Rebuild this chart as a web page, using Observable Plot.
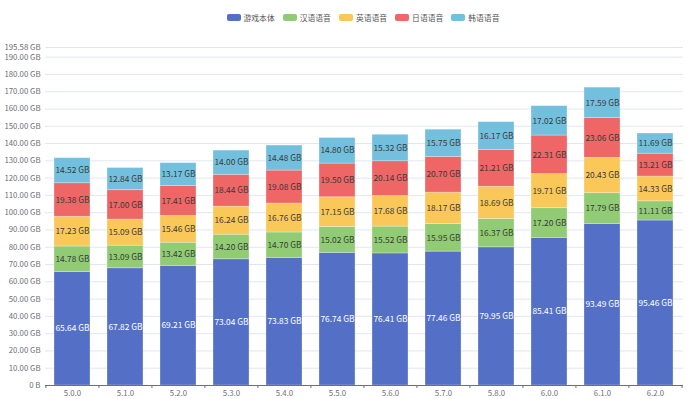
<!DOCTYPE html>
<html>
<head>
<meta charset="utf-8">
<script src="https://cdn.jsdelivr.net/npm/d3@7"></script>
<script src="https://cdn.jsdelivr.net/npm/@observablehq/plot@0.6"></script>
<style>
  html, body { margin: 0; padding: 0; background: #fff; }
  body { width: 690px; height: 399px; overflow: hidden; font-family: "Noto Sans CJK SC", "Open Sans", sans-serif; }
  #legend { height: 30px; display: flex; justify-content: center; align-items: center; padding-left: 36px; padding-top: 4px; box-sizing: border-box; gap: 8px; font-size: 7.8px; color: #555; }
  .item { display: flex; align-items: center; gap: 3px; }
  .sw { width: 14px; height: 7px; border-radius: 2px; }
  svg { display: block; }
</style>
</head>
<body>
<div id="legend"></div>
<div id="chart"></div>
<script>
const versions = ["5.0.0","5.1.0","5.2.0","5.3.0","5.4.0","5.5.0","5.6.0","5.7.0","5.8.0","6.0.0","6.1.0","6.2.0"];
const seriesNames = ["游戏本体","汉语语音","英语语音","日语语音","韩语语音"];
const seriesColors = ["#5470c6","#91cc75","#fac858","#ee6666","#73c0de"];
const gameBody = [65.64,67.82,69.21,73.04,73.83,76.74,76.41,77.46,79.95,85.41,93.49,95.46];
const chineseVoice = [14.78,13.09,13.42,14.20,14.70,15.02,15.52,15.95,16.37,17.20,17.79,11.11];
const englishVoice = [17.23,15.09,15.46,16.24,16.76,17.15,17.68,18.17,18.69,19.71,20.43,14.33];
const japaneseVoice = [19.38,17.00,17.41,18.44,19.08,19.50,20.14,20.70,21.21,22.31,23.06,13.21];
const koreanVoice = [14.52,12.84,13.17,14.00,14.48,14.80,15.32,15.75,16.17,17.02,17.59,11.69];
const yTicks = [0,10,20,30,40,50,60,70,80,90,100,110,120,130,140,150,160,170,180,190,195.58];
const yMax = 195.58;

const seriesValues = [gameBody, chineseVoice, englishVoice, japaneseVoice, koreanVoice];
const data = [];
versions.forEach((v, i) => {
  seriesNames.forEach((s, j) => data.push({version: v, series: s, value: seriesValues[j][i]}));
});

// legend
const legend = document.getElementById("legend");
seriesNames.forEach((s, j) => {
  const it = document.createElement("div");
  it.className = "item";
  const sw = document.createElement("div");
  sw.className = "sw";
  sw.style.background = seriesColors[j];
  const t = document.createElement("span");
  t.textContent = s;
  it.appendChild(sw); it.appendChild(t);
  legend.appendChild(it);
});

const W = 690, H = 369, mt = 17, mb = 14, ml = 45, mr = 7;
const pInner = 0.32, pOuter = 0.16;
const step = (W - ml - mr) / (versions.length - pInner + 2 * pOuter);
const innerH = H - mt - mb;
const fmt = d => d === 0 ? "0 B" : d.toFixed(2) + " GB";
const labelFont = "Noto Sans CJK SC, Open Sans, sans-serif";
const lbl = d => d.value.toFixed(2) + " GB";

const chart = Plot.plot({
  width: W, height: H,
  marginTop: mt, marginBottom: mb, marginLeft: ml, marginRight: mr,
  style: {fontFamily: labelFont, fontSize: "7.5px", background: "white"},
  x: {domain: versions, paddingInner: pInner, paddingOuter: pOuter, axis: null},
  y: {domain: [0, yMax], axis: null},
  color: {domain: seriesNames, range: seriesColors},
  marks: [
    Plot.ruleY(yTicks.slice(1), {stroke: "#e0e6f1", strokeWidth: 1}),
    Plot.axisY({ticks: yTicks, tickFormat: fmt, tickSize: 0, tickPadding: 5, color: "#6e7079", label: null, fontSize: 7.8}),
    Plot.barY(data, {x: "version", y: "value", fill: "series", stroke: "white", strokeOpacity: 0.35, strokeWidth: 0.8}),
    Plot.text(data, Plot.stackY({x: "version", y: "value", z: "series",
      text: d => d.series === seriesNames[0] ? lbl(d) : null, fill: "white", fontSize: 8.4})),
    Plot.text(data, Plot.stackY({x: "version", y: "value", z: "series",
      text: d => d.series !== seriesNames[0] ? lbl(d) : null, fill: "#3a3a3a", fontSize: 8.4})),
    Plot.ruleY([0], {stroke: "#6e7079", strokeWidth: 1}),
    Plot.ruleX(versions, {x: d => d, dx: -step / 2, insetTop: innerH, insetBottom: -3, stroke: "#6e7079"}),
    Plot.ruleX(versions.slice(-1), {x: d => d, dx: step / 2, insetTop: innerH, insetBottom: -3, stroke: "#6e7079"}),
    Plot.axisX({tickSize: 0, tickPadding: 5, color: "#6e7079", label: null, fontSize: 7.8})
  ]
});
document.getElementById("chart").appendChild(chart);
</script>
</body>
</html>
